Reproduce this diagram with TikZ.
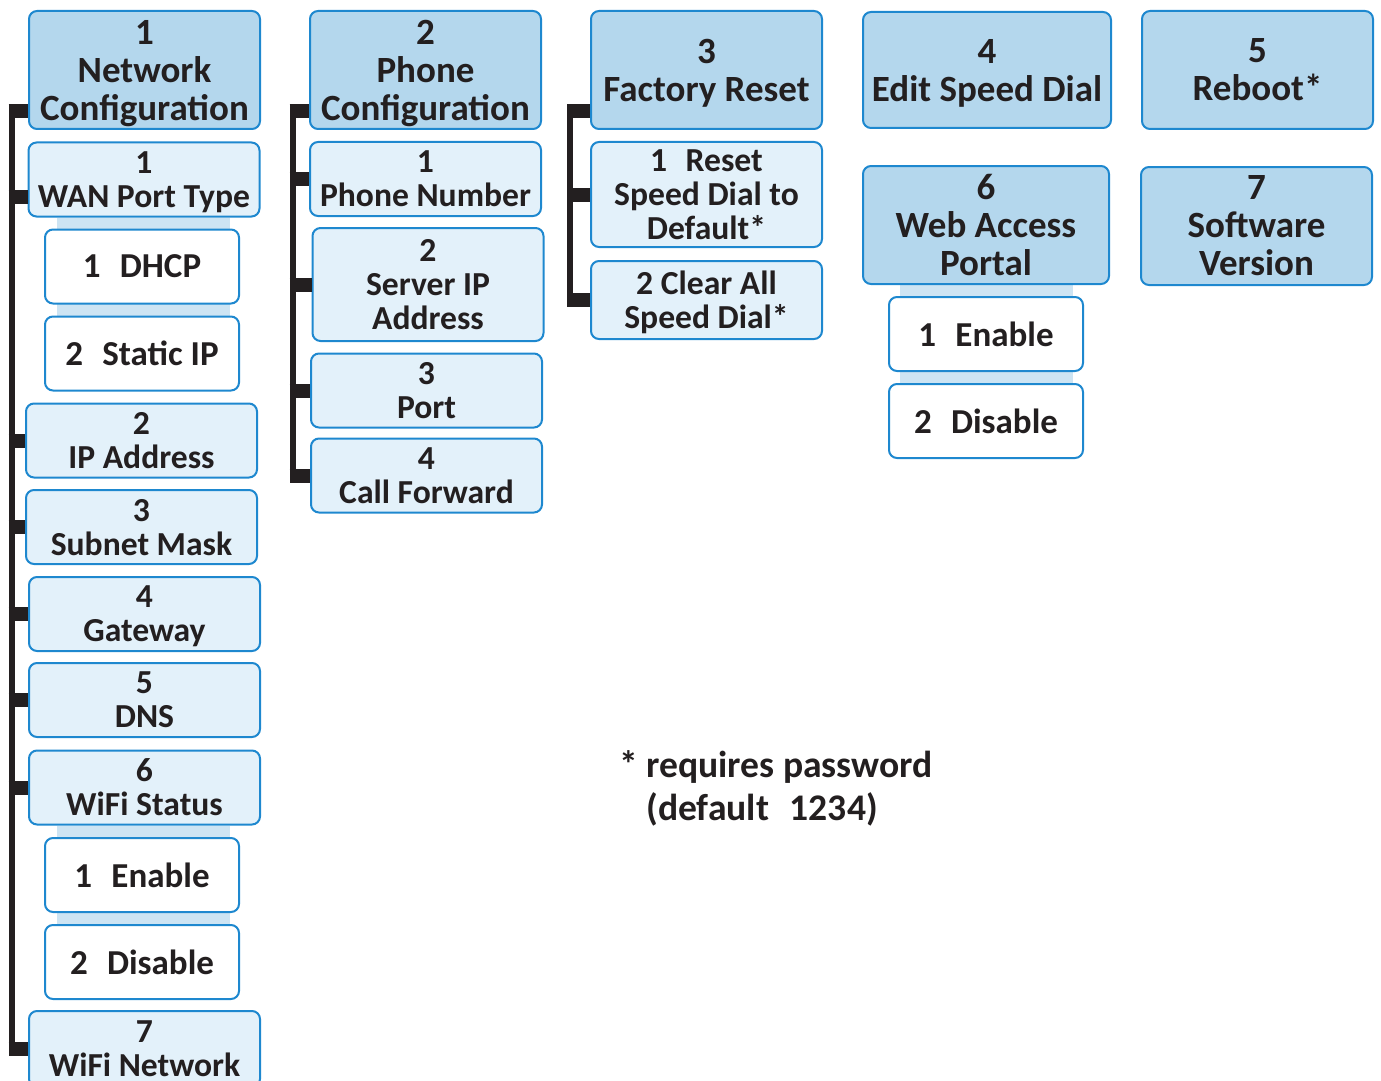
\documentclass[tikz,border=0pt]{standalone}
\usepackage{fontspec}
\setmainfont{Carlito}
\usepackage{tikz}
\usetikzlibrary{positioning, calc, backgrounds}
\definecolor{menublue}{RGB}{30, 136, 207}
\definecolor{menudark}{RGB}{180, 215, 237}
\definecolor{menulight}{RGB}{227, 241, 250}
\definecolor{menuband}{RGB}{205, 228, 243}
\definecolor{menuink}{RGB}{35, 31, 32}

\tikzset{
  menubox/.style={draw=menublue, line width=1pt, rounded corners=4pt, align=center, inner sep=0pt, text depth=-2.5pt, text=menuink},
  topbox/.style={menubox, fill=menudark, minimum width=115.5pt, minimum height=59pt, font=\fontsize{18.5}{19}\selectfont\bfseries},
  subbox/.style={menubox, fill=menulight, minimum width=115.5pt, minimum height=37pt, font=\fontsize{16.8}{17}\selectfont\bfseries},
  optbox/.style={menubox, fill=white, minimum width=97pt, minimum height=37pt, font=\fontsize{17.5}{18}\selectfont\bfseries},
  spine/.style={draw=menuink, line width=3pt},
  stub/.style={draw=menuink, line width=7pt},
  band/.style={fill=menuband},
}

\begin{document}
\begin{tikzpicture}[x=0.5pt, y=-0.5pt]
  \useasboundingbox (0,0) rectangle (1381,1081);

  % column 1: network configuration
  \node[topbox] (n1) at (144.5,70) {1\\Network\\Configuration};
  \node[subbox] (n1a) at (144,179.5) {1\\WAN Port Type};
  \node[optbox] (n1a1) at (142,266.5) {1\hspace{0.55em}DHCP};
  \node[optbox] (n1a2) at (142,353.5) {2\hspace{0.55em}Static IP};
  \node[subbox] (n1b) at (141.5,440.5) {2\\IP Address};
  \node[subbox] (n1c) at (141.5,527) {3\\Subnet Mask};
  \node[subbox] (n1d) at (144.5,614) {4\\Gateway};
  \node[subbox] (n1e) at (144.5,700) {5\\DNS};
  \node[subbox] (n1f) at (144.5,787.5) {6\\WiFi Status};
  \node[optbox] (n1f1) at (142,875) {1\hspace{0.55em}Enable};
  \node[optbox] (n1f2) at (142,962) {2\hspace{0.55em}Disable};
  \node[subbox, minimum height=38pt] (n1g) at (144.5,1049) {7\\WiFi Network};

  % column 2: phone configuration
  \node[topbox] (n2) at (425.5,70) {2\\Phone\\Configuration};
  \node[subbox] (n2a) at (425.5,179) {1\\Phone Number};
  \node[subbox, minimum height=56.5pt] (n2b) at (428,284.5) {2\\Server IP\\Address};
  \node[subbox] (n2c) at (426.5,390.5) {3\\Port};
  \node[subbox] (n2d) at (426.5,475.5) {4\\Call Forward};

  % column 3: factory reset
  \node[topbox] (n3) at (706.5,70) {3\\Factory Reset};
  \node[subbox, minimum height=52.5pt] (n3a) at (706.5,194.5) {1\hspace{0.55em}Reset\\Speed Dial to\\Default*};
  \node[subbox, minimum height=39pt] (n3b) at (706.5,300) {2 Clear All\\Speed Dial*};

  % columns 4 and 5
  \node[topbox, minimum width=124pt, minimum height=58pt] (n4) at (987,70) {4\\Edit Speed Dial};
  \node[topbox, minimum width=123pt] (n6) at (986,225) {6\\Web Access\\Portal};
  \node[optbox] (n6a) at (986,334) {1\hspace{0.55em}Enable};
  \node[optbox] (n6b) at (986,421) {2\hspace{0.55em}Disable};
  \node[topbox] (n5) at (1257.5,70) {5\\Reboot*};
  \node[topbox] (n7) at (1256.5,226) {7\\Software\\Version};

  \node[anchor=north west, align=left, text=menuink, font=\fontsize{18.8}{21.5}\selectfont\bfseries] (note) at (612,744)
    {* requires password\\\hphantom{* }(default\hspace{0.55em}1234)};

  % shaded bands behind the option boxes
  \begin{scope}[on background layer]
    \fill[band] ($(n1a.south)+(-87.5,0)$) rectangle ($(n1a2.center)+(87.5,0)$);
    \fill[band] ($(n1f.south)+(-87.5,0)$) rectangle ($(n1f2.center)+(87.5,0)$);
    \fill[band] ($(n6.south)+(-86.5,0)$) rectangle ($(n6b.center)+(86.5,0)$);
  \end{scope}

  % brackets
  \coordinate (sp1) at (11.5,0);
  \coordinate (sp2) at (292.5,0);
  \coordinate (sp3) at (570,0);
  \path ([yshift=9.5pt]n1.south west) coordinate (t1)
        ([yshift=9.5pt]n2.south west) coordinate (t2)
        ([yshift=9.5pt]n3.south west) coordinate (t3)
        ([yshift=-8.75pt]n1a.west) coordinate (w1);
  \draw[spine] (t1 -| sp1) -- (n1g.west -| sp1);
  \draw[spine] (t2 -| sp2) -- (n2d.west -| sp2);
  \draw[spine] (t3 -| sp3) -- (n3b.west -| sp3);
  \foreach \t/\s in {t1/sp1, w1/sp1, t2/sp2, t3/sp3}
    \draw[stub] (\t -| \s) ++(-3,0) -- (\t);
  \foreach \n in {n1b, n1c, n1d, n1e, n1f, n1g}
    \draw[stub] (\n.west -| sp1) ++(-3,0) -- (\n.west);
  \foreach \n in {n2a, n2b, n2c, n2d}
    \draw[stub] (\n.west -| sp2) ++(-3,0) -- (\n.west);
  \foreach \n in {n3a, n3b}
    \draw[stub] (\n.west -| sp3) ++(-3,0) -- (\n.west);
\end{tikzpicture}
\end{document}
